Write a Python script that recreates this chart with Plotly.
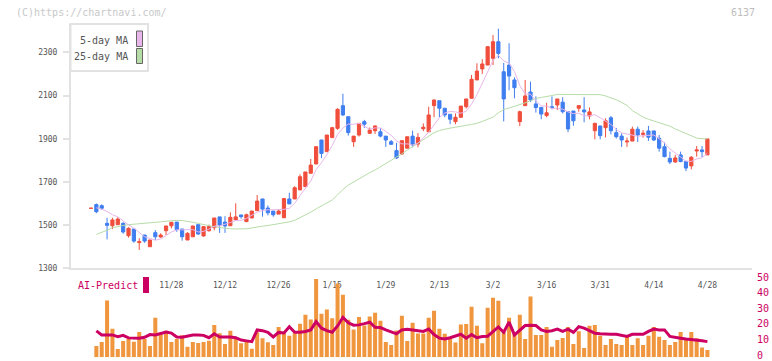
import plotly.graph_objects as go

# ---------------- data ----------------
tick_idx = [15, 25, 35, 45, 55, 65, 75, 85, 95, 105, 115]
tick_labels = ["11/28", "12/12", "12/26", "1/15", "1/29", "2/13", "3/2", "3/16", "3/31", "4/14", "4/28"]

opens = [1578,1595,1590,1508,1497,1502,1508,1451,1482,1419,
         1454,1400,1465,1445,1474,1497,1514,1482,1431,1446,
         1502,1450,1474,1488,1538,1514,1497,1524,1547,1516,
         1533,1567,1621,1579,1565,1551,1534,1621,1621,1663,
         1678,1740,1783,1894,1840,1905,1948,2053,2002,1886,
         1917,1979,1925,1937,1932,1912,1886,1845,1829,1856,
         1912,1875,1946,1932,2053,2076,2041,2013,1979,1999,
         2048,2087,2172,2223,2241,2272,2349,2210,2241,2172,
         1979,2053,2116,2061,2045,2007,2048,2056,2069,2025,
         2028,2041,2033,2005,1937,1959,1951,1997,1928,1912,
         1885,1889,1944,1920,1936,1936,1902,1863,1809,1792,
         1825,1795,1774,1843,1848,1825]

closes = [1578,1562,1578,1499,1524,1528,1468,1485,1426,1423,
          1426,1431,1446,1454,1496,1513,1479,1446,1462,1496,
          1459,1493,1493,1533,1500,1496,1536,1538,1539,1548,
          1565,1611,1574,1557,1548,1565,1623,1598,1673,1724,
          1746,1778,1863,1832,1917,1951,2036,2010,1928,1912,
          1971,1967,1940,1959,1912,1894,1874,1811,1891,1909,
          1871,1906,1953,2010,2079,2041,2010,1990,1999,2051,
          2084,2175,2213,2246,2326,2349,2295,2084,2190,2136,
          2025,2098,2079,2044,2014,2020,2044,2084,2025,1945,
          1983,2053,2024,2024,1971,1914,1983,1937,1909,1894,
          1889,1944,1917,1925,1907,1894,1856,1817,1792,1811,
          1794,1764,1814,1848,1840,1899]

highs = [1578,1600,1596,1534,1534,1537,1513,1490,1482,1439,
         1454,1431,1477,1462,1496,1513,1514,1482,1467,1496,
         1502,1493,1502,1533,1538,1541,1559,1601,1547,1553,
         1565,1639,1621,1591,1565,1572,1623,1650,1680,1735,
         1746,1806,1863,1894,1917,1955,2041,2108,2002,1912,
         1971,1987,1952,1962,1948,1912,1894,1881,1891,1909,
         1937,1926,1971,2048,2082,2076,2041,2013,2017,2051,
         2084,2195,2249,2268,2329,2380,2409,2251,2342,2184,
         2030,2172,2164,2096,2045,2066,2096,2084,2092,2025,
         2028,2056,2092,2045,1974,1959,1994,2005,1950,1925,
         1905,1956,1956,1940,1959,1936,1917,1883,1840,1825,
         1840,1795,1820,1866,1866,1899]

lows = [1578,1555,1571,1434,1481,1502,1460,1442,1418,1385,
        1418,1400,1431,1442,1454,1485,1469,1428,1431,1446,
        1454,1446,1470,1476,1464,1464,1497,1524,1530,1516,
        1533,1567,1539,1545,1539,1551,1534,1598,1621,1663,
        1678,1740,1783,1810,1840,1905,1941,2005,1914,1862,
        1910,1950,1922,1922,1906,1862,1871,1806,1825,1856,
        1860,1860,1935,1932,1999,1999,1999,1967,1967,1999,
        2040,2087,2172,2200,2241,2241,2272,1980,2124,2087,
        1958,2053,2070,2021,1990,1999,2036,2033,2017,1930,
        1960,2025,1976,1990,1897,1897,1906,1920,1901,1862,
        1862,1889,1885,1905,1890,1890,1840,1814,1783,1789,
        1791,1750,1758,1817,1815,1825]

ma5 = [None,1580,1574,1563,1548,1538,1519,1501,1486,1466,
       1446,1438,1430,1436,1451,1468,1478,1478,1479,1479,
       1468,1471,1481,1495,1496,1503,1512,1521,1522,1531,
       1545,1560,1567,1571,1571,1571,1573,1578,1601,1637,
       1673,1704,1757,1789,1827,1868,1920,1949,1968,1967,
       1971,1958,1944,1950,1950,1934,1916,1890,1876,1876,
       1871,1878,1906,1930,1964,1998,2019,2026,2024,2018,
       2027,2060,2104,2154,2209,2262,2286,2260,2249,2211,
       2146,2107,2106,2076,2052,2051,2040,2041,2037,2024,
       2016,2018,2006,2006,2011,1997,1983,1966,1943,1927,
       1922,1915,1911,1914,1916,1917,1900,1880,1853,1834,
       1814,1796,1795,1806,1812,1833]

ma25 = [None,1457,1466,1476,1488,1494,1498,1502,1504,1506,
        1507,1508,1510,1515,1518,1521,1522,1521,1518,1513,
        1508,1502,1496,1492,1489,1485,1483,1482,1481,1483,
        1487,1492,1495,1498,1502,1506,1510,1515,1522,1534,
        1547,1560,1575,1588,1601,1616,1640,1665,1685,1700,
        1717,1730,1743,1755,1770,1785,1798,1812,1830,1847,
        1863,1879,1896,1912,1928,1938,1945,1949,1953,1956,
        1962,1966,1971,1980,1990,2000,2020,2035,2042,2050,
        2056,2066,2076,2086,2091,2097,2100,2105,2106,2106,
        2105,2104,2104,2105,2106,2104,2098,2090,2080,2068,
        2054,2030,2014,2000,1990,1982,1974,1968,1958,1945,
        1934,1922,1912,1903,1900,1899]

volume = [0,7.2,9.8,36.3,18.3,5.3,10.4,11.7,10.0,16.2,
          11.7,7.2,25.2,15.4,16.9,9.8,11.7,14.1,6.8,9.8,
          9.2,9.8,10.6,20.7,15.4,8.5,16.9,12.4,9.0,10.7,
          5.5,16.0,12.2,9.6,7.9,19.4,16.0,13.7,15.4,21.5,
          27.1,24.1,50.2,27.8,30.5,25.0,47.2,40.0,23.9,17.7,
          25.8,20.3,26.0,28.4,23.3,9.8,7.9,17.1,26.5,10.4,
          22.0,15.2,15.2,25.2,29.7,18.2,15.0,12.0,9.4,20.9,
          21.3,32.3,20.1,9.0,31.6,38.1,36.1,16.0,25.2,15.1,
          27.2,11.7,38.8,14.3,14.3,19.4,6.7,11.1,12.4,19.4,
          8.5,16.7,6.0,20.1,20.7,13.7,7.9,11.7,8.5,7.9,
          13.7,7.9,12.2,7.9,13.7,19.4,13.1,11.1,7.9,9.8,
          16.2,11.7,16.2,12.2,6.2,4.7]

ai_predict = [None,16.9,14.3,14.3,14.3,13.2,14.0,12.4,12.2,12.2,
              12.8,14.5,14.3,15.5,16.2,15.5,13.0,12.8,13.5,14.3,
              14.3,14.0,12.5,15.0,13.0,13.2,13.0,12.5,11.0,10.5,
              10.0,17.5,17.0,15.9,13.0,15.9,15.5,19.5,16.0,16.0,
              16.5,17.5,22.8,18.6,17.0,16.0,20.0,25.5,22.0,20.5,
              20.7,21.5,22.4,19.2,19.0,17.5,16.0,15.0,17.5,17.9,
              17.5,17.0,16.5,18.0,14.5,12.2,11.7,12.5,13.5,14.7,
              12.2,14.5,12.5,13.3,13.5,16.5,19.4,16.0,22.5,14.3,
              17.5,20.3,20.5,20.3,17.5,16.5,17.0,18.0,16.5,18.0,
              15.9,19.6,18.6,17.0,15.4,15.0,14.7,14.7,14.7,14.0,
              13.3,14.7,14.7,14.7,16.5,18.0,17.5,17.5,13.3,12.6,
              12.2,11.7,11.4,11.1,10.5,10.0]

price_ticks = [1300, 1500, 1700, 1900, 2100, 2300]
volume_ticks = [0, 10, 20, 30, 40, 50]

# ---------------- style ----------------
W, H = 772, 361
RED = "#f04e3c"
BLUE = "#3f7ef0"
PINK = "#e8b6ea"
GREEN = "#b6dca8"
ORANGE = "#f0963e"
MAG = "#cc0062"
AXIS = "#e2e2e2"
TXT = "#555555"
FONT = "DejaVu Sans Mono"


def fx(px):
    return px / W


def fy(py):
    return 1 - py / H


idx = list(range(len(closes)))

fig = go.Figure()
fig.add_trace(go.Scatter(x=idx, y=ma25, mode="lines", line=dict(color=GREEN, width=1),
                         xaxis="x", yaxis="y", showlegend=False, hoverinfo="skip"))
fig.add_trace(go.Scatter(x=idx, y=ma5, mode="lines", line=dict(color=PINK, width=1),
                         xaxis="x", yaxis="y", showlegend=False, hoverinfo="skip"))
fig.add_trace(go.Candlestick(
    x=idx, open=opens, high=highs, low=lows, close=closes,
    increasing=dict(line=dict(color=RED, width=1), fillcolor=RED),
    decreasing=dict(line=dict(color=BLUE, width=1), fillcolor=BLUE),
    whiskerwidth=0, xaxis="x", yaxis="y", showlegend=False, hoverinfo="skip"))
fig.add_trace(go.Bar(x=idx, y=volume, marker=dict(color=ORANGE, line=dict(width=0)),
                     xaxis="x2", yaxis="y2", showlegend=False, hoverinfo="skip"))
fig.add_trace(go.Scatter(x=idx, y=ai_predict, mode="lines", line=dict(color=MAG, width=3),
                         xaxis="x2", yaxis="y2", showlegend=False, hoverinfo="skip"))

xdom = [fx(71), fx(752)]
xr = [-3.73, 123.32]

fig.update_layout(
    template="none",
    width=W, height=H, autosize=False,
    margin=dict(l=0, r=0, t=0, b=0, pad=0),
    paper_bgcolor="white", plot_bgcolor="white",
    showlegend=False, bargap=0.25, boxgap=0.15,
    font=dict(family=FONT, color=TXT),
    xaxis=dict(domain=xdom, range=xr, anchor="y", automargin=False,
               showline=True, linecolor=AXIS, linewidth=2,
               tickmode="array", tickvals=tick_idx, ticktext=tick_labels,
               ticks="outside", ticklen=8, tickcolor="rgba(0,0,0,0)",
               tickfont=dict(family=FONT, size=8, color=TXT),
               showgrid=False, zeroline=False, rangeslider=dict(visible=False), fixedrange=True),
    xaxis3=dict(overlaying="x", anchor="y", range=[0, 11], tickmode="linear", tick0=0, dtick=1,
                automargin=False,
                ticks="outside", ticklen=5, tickwidth=2, tickcolor=AXIS, showticklabels=False,
                showgrid=False, zeroline=False, showline=False, fixedrange=True),
    yaxis=dict(domain=[fy(268.3), fy(24)], range=[1300, 2431], anchor="x", automargin=False,
               tickmode="array", tickvals=price_ticks, ticks="outside", ticklen=6, tickwidth=2,
               tickcolor=AXIS, showline=True, linecolor=AXIS, linewidth=2,
               tickfont=dict(family=FONT, size=8, color=TXT), ticklabelstandoff=4,
               showgrid=False, zeroline=False, fixedrange=True),
    xaxis2=dict(domain=xdom, range=xr, matches="x", anchor="y2", visible=False, automargin=False),
    yaxis2=dict(domain=[fy(357.3), fy(279)], range=[0, 50], anchor="x2", side="right",
                automargin=False, ticklabeloverflow="allow", ticklabelshift=-2,
                tickmode="array", tickvals=volume_ticks, ticks="", showline=False,
                showgrid=False, zeroline=False, ticklabelstandoff=4,
                tickfont=dict(family=FONT, size=10, color=MAG), fixedrange=True),
)

ann = [
    dict(text="(C)https://chartnavi.com/", x=fx(14), y=fy(12.7), xanchor="left", yanchor="middle",
         font=dict(family=FONT, size=10, color="#c8c8c8")),
    dict(text="6137", x=fx(757), y=fy(12.5), xanchor="right", yanchor="middle",
         font=dict(family=FONT, size=10, color="#bdbdbd")),
    dict(text="5-day MA", x=fx(130), y=fy(40.7), xanchor="right", yanchor="middle",
         font=dict(family=FONT, size=10, color=TXT)),
    dict(text="25-day MA", x=fx(130), y=fy(56.7), xanchor="right", yanchor="middle",
         font=dict(family=FONT, size=10, color=TXT)),
    dict(text="AI-Predict", x=fx(75.5), y=fy(285.5), xanchor="left", yanchor="middle",
         font=dict(family=FONT, size=10, color=MAG)),
]
for a in ann:
    a.update(xref="paper", yref="paper", showarrow=False)
fig.update_layout(annotations=ann)

shapes = [
    dict(type="rect", x0=fx(70.5), x1=fx(148), y0=fy(71), y1=fy(24),
         line=dict(color=AXIS, width=2), fillcolor="white", layer="above"),
    dict(type="rect", x0=fx(136.5), x1=fx(142.5), y0=fy(46.5), y1=fy(31),
         line=dict(color="#666666", width=1), fillcolor=PINK, layer="above"),
    dict(type="rect", x0=fx(136.5), x1=fx(142.5), y0=fy(63.5), y1=fy(48.5),
         line=dict(color="#666666", width=1), fillcolor=GREEN, layer="above"),
    dict(type="rect", x0=fx(143), x1=fx(149), y0=fy(293), y1=fy(277),
         line=dict(width=0), fillcolor=MAG, layer="above"),
]
for s in shapes:
    s.update(xref="paper", yref="paper")
fig.update_layout(shapes=shapes)

# remove the default page margin so the 772x361 figure fills the window exactly
fig.write_html("out.html", config={"displayModeBar": False},
               post_script="document.body.style.margin='0';document.body.style.overflow='hidden';")
